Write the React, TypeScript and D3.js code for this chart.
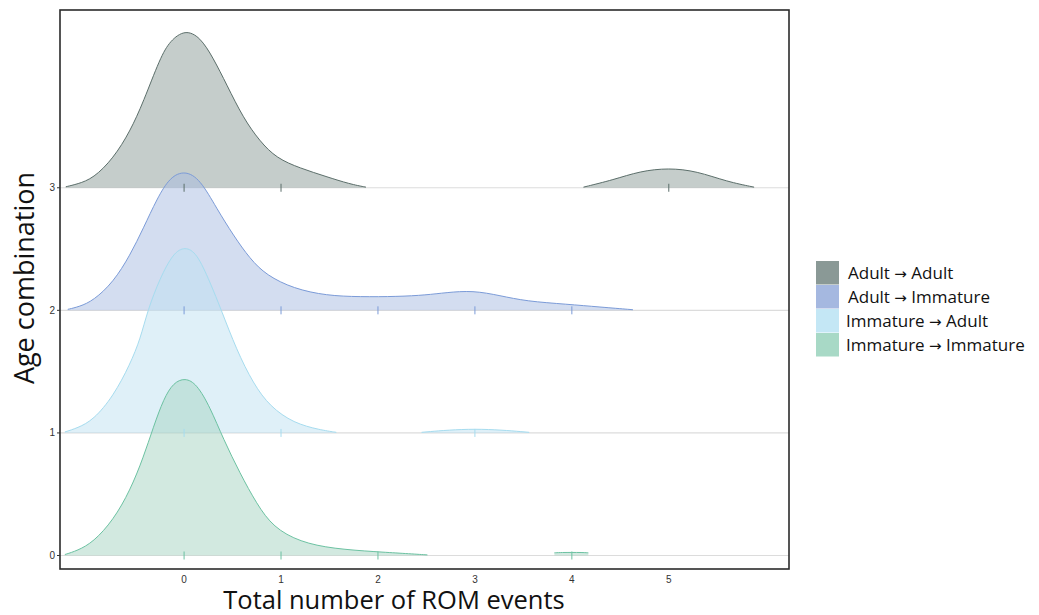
import * as d3 from 'd3';

const legendNames = [['Adult', 'Adult'], ['Adult', 'Immature'], ['Immature', 'Adult'], ['Immature', 'Immature']];
// index 0 = Immature -> Immature (bottom ridge) ... 3 = Adult -> Adult (top ridge)
const baseColors = ['#a5d3c1', '#bfe1f1', '#a7bbe1', '#8b9b98'];
const lineColors = ['#6cc2a2', '#a6dcef', '#7b9bd8', '#5b6e6a'];
const legendColors = ['#8a9996', '#a5b8e0', '#c4e7f5', '#a8d9c6'];

const xTicks = [0, 1, 2, 3, 4, 5];
const yTicks = [0, 1, 2, 3];

// density heights: [x, height in y units]
const adultAdultMain = [[-1.22, 0.008], [-1.1, 0.03], [-0.935, 0.077], [-0.73, 0.24], [-0.557, 0.46], [-0.42, 0.7], [-0.247, 1.06], [-0.144, 1.2], [0.01, 1.29], [0.165, 1.23], [0.3, 1.06], [0.44, 0.84], [0.61, 0.57], [0.78, 0.38], [0.955, 0.24], [1.196, 0.16], [1.47, 0.09], [1.71, 0.03], [1.876, 0.005]];
const adultAdultBump = [[4.12, 0.005], [4.43, 0.065], [4.7, 0.135], [5.0, 0.162], [5.29, 0.135], [5.6, 0.05], [5.88, 0.005]];
const adultImmature = [[-1.2, 0.008], [-1.08, 0.03], [-0.935, 0.08], [-0.73, 0.23], [-0.557, 0.45], [-0.42, 0.67], [-0.28, 0.91], [-0.144, 1.09], [0.01, 1.14], [0.165, 1.07], [0.337, 0.83], [0.51, 0.61], [0.68, 0.42], [0.85, 0.286], [1.13, 0.177], [1.47, 0.12], [1.81, 0.11], [2.2, 0.112], [2.5, 0.125], [2.7, 0.145], [2.98, 0.162], [3.26, 0.12], [3.53, 0.074], [3.95, 0.05], [4.29, 0.027], [4.63, 0.005]];
const immatureAdultMain = [[-1.23, 0.008], [-1.1, 0.04], [-0.935, 0.106], [-0.73, 0.3], [-0.557, 0.56], [-0.45, 0.77], [-0.376, 1.0], [-0.25, 1.26], [-0.11, 1.47], [0.01, 1.52], [0.13, 1.47], [0.268, 1.23], [0.385, 1.0], [0.54, 0.68], [0.715, 0.4], [0.887, 0.215], [1.13, 0.08], [1.4, 0.025], [1.57, 0.005]];
const immatureAdultBump = [[2.45, 0.005], [3.0, 0.042], [3.56, 0.005]];
const immatureImmatureMain = [[-1.23, 0.008], [-1.1, 0.04], [-0.935, 0.11], [-0.73, 0.29], [-0.557, 0.53], [-0.42, 0.8], [-0.316, 1.05], [-0.21, 1.28], [-0.11, 1.41], [0.01, 1.45], [0.13, 1.4], [0.268, 1.21], [0.405, 0.95], [0.577, 0.67], [0.75, 0.42], [0.92, 0.23], [1.196, 0.11], [1.54, 0.055], [1.99, 0.03], [2.25, 0.018], [2.51, 0.005]];
const immatureImmatureBump = [[3.82, 0.022], [3.9, 0.025], [4.0, 0.025], [4.1, 0.025], [4.17, 0.022]];

const ridgeSegments = [
  [immatureImmatureMain, immatureImmatureBump],
  [immatureAdultMain, immatureAdultBump],
  [adultImmature],
  [adultAdultMain, adultAdultBump],
];

// observed values (rug ticks)
const observed = [[0, 1, 2, 4], [0, 1, 3], [0, 1, 2, 3, 4], [0, 1, 5]];

const W = 1039;
const H = 615;
const panel = { left: 60, top: 10, right: 789, bottom: 569 };

export default function App() {
  const x = d3.scaleLinear().domain([-1.28, 6.24]).range([panel.left, panel.right]);
  const y = d3.scaleLinear().domain([-0.11, 4.45]).range([panel.bottom, panel.top]);

  const areaFor = (k: number) =>
    d3.area<number[]>()
      .x(d => x(d[0]))
      .y0(y(k))
      .y1(d => y(k + d[1]))
      .curve(d3.curveBasis);
  const lineFor = (k: number) =>
    d3.line<number[]>()
      .x(d => x(d[0]))
      .y(d => y(k + d[1]))
      .curve(d3.curveBasis);

  // top ridge first so lower ones overlap it
  const order = [3, 2, 1, 0];

  return (
    <div style={{ position: 'absolute', left: 0, top: 0 }}>
      <svg width={W} height={H} style={{ display: 'block', background: '#fff' }}>
        {/* baselines */}
        {yTicks.map(k => (
          <line key={'g' + k} x1={panel.left} x2={panel.right} y1={y(k)} y2={y(k)} stroke="#dcdcdc" strokeWidth={1.2} />
        ))}

        {order.map(k => (
          <g key={'r' + k}>
            {ridgeSegments[k].map((seg, i) => (
              <g key={i}>
                <path d={areaFor(k)(seg) || ''} fill={baseColors[k]} fillOpacity={0.5} />
                <path d={lineFor(k)(seg) || ''} fill="none" stroke={lineColors[k]} strokeWidth={1} />
              </g>
            ))}
          </g>
        ))}

        {order.map(k => (
          <g key={'t' + k}>
            {observed[k].map(v => (
              <line key={v} x1={x(v)} x2={x(v)} y1={y(k) - 4} y2={y(k) + 4} stroke={lineColors[k]} strokeWidth={1} />
            ))}
          </g>
        ))}

        {/* panel border */}
        <rect x={panel.left} y={panel.top} width={panel.right - panel.left} height={panel.bottom - panel.top}
          fill="none" stroke="#2b2b2b" strokeWidth={1.6} />

        {/* y axis ticks & labels */}
        {yTicks.map(k => (
          <g key={'yt' + k}>
            <line x1={panel.left - 3} x2={panel.left} y1={y(k)} y2={y(k)} stroke="#333" strokeWidth={1} />
            <text x={panel.left - 5} y={y(k)} dy="0.35em" textAnchor="end" fontSize={10}
              fontFamily="Liberation Sans, Arial, sans-serif" fill="#333">{k}</text>
          </g>
        ))}

        {/* x axis labels */}
        {xTicks.map(v => (
          <text key={'xt' + v} x={x(v)} y={583} textAnchor="middle" fontSize={10}
            fontFamily="Liberation Sans, Arial, sans-serif" fill="#333">{v}</text>
        ))}

        <text x={394} y={609} textAnchor="middle" fontSize={25.5} fontFamily="Open Sans, sans-serif" fill="#111">
          Total number of ROM events
        </text>
        <text transform="translate(34,278) rotate(-90)" textAnchor="middle" fontSize={27}
          fontFamily="Open Sans, sans-serif" fill="#111">
          Age combination
        </text>

        {/* legend */}
        {legendNames.map((pair, i) => (
          <g key={'l' + i} transform={`translate(816,${261 + i * 24})`}>
            <rect width={23} height={23.5} fill={legendColors[i]} />
            <text x={i < 2 ? 32 : 30} y={12} dy="0.35em" fontSize={17} fontFamily="Open Sans, sans-serif" fill="#111">
              {pair[0]}{' '}
              <tspan fontFamily="DejaVu Sans" fontSize={15}>{'\u2192'}</tspan>
              {' '}{pair[1]}
            </text>
          </g>
        ))}
      </svg>
    </div>
  );
}
